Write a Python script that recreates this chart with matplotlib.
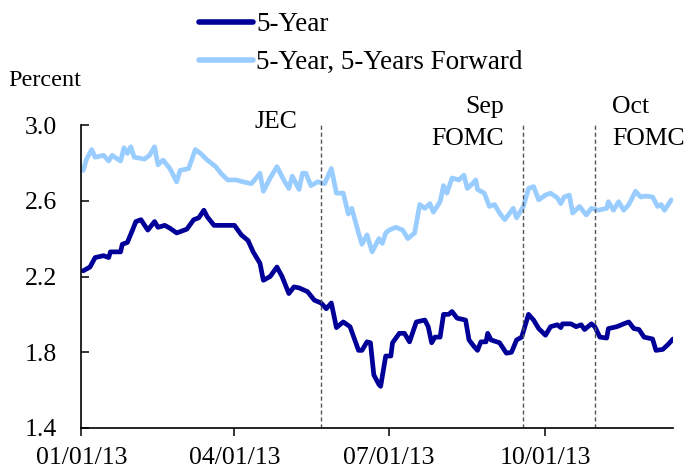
import matplotlib
matplotlib.use("Agg")
import matplotlib.pyplot as plt
import matplotlib.dates as mdates
import numpy as np

plt.rcParams['font.family'] = ['Liberation Serif', 'DejaVu Serif']

# days since 01/01/13
five_year_days = [1, 5, 8, 13, 16, 17, 23, 24, 27, 30, 32, 35, 39, 43, 45, 49, 52, 56, 62, 66,
                  69, 72, 74, 78, 83, 86, 90, 94, 98, 101, 105, 107, 111, 115, 118, 122, 125, 128,
                  133, 137, 141, 144, 147, 150, 154, 158, 163, 165, 168, 170, 172, 175, 176, 179,
                  182, 183, 187, 190, 193, 197, 202, 204, 206, 208, 211, 213, 216, 218, 221, 226,
                  228, 231, 233, 235, 238, 239, 241, 246, 250, 253, 256, 259, 263, 266, 269, 273,
                  276, 280, 282, 283, 288, 291, 294, 296, 300, 302, 305, 309, 310, 315, 319, 322,
                  325, 328, 331, 336, 338, 342, 345, 348]
five_year = [2.23, 2.25, 2.30, 2.31, 2.30, 2.33, 2.33, 2.37, 2.38, 2.445, 2.49, 2.50, 2.445, 2.49,
             2.46, 2.47, 2.455, 2.43, 2.45, 2.50, 2.51, 2.55, 2.515, 2.47, 2.47, 2.47, 2.47, 2.42,
             2.39, 2.33, 2.27, 2.18, 2.20, 2.25, 2.20, 2.11, 2.145, 2.14, 2.12, 2.075, 2.06, 2.03,
             2.06, 1.93, 1.96, 1.935, 1.81, 1.81, 1.855, 1.85, 1.68, 1.63, 1.62, 1.78, 1.78, 1.85,
             1.90, 1.90, 1.855, 1.96, 1.97, 1.935, 1.85, 1.88, 1.88, 2.00, 2.00, 2.015, 1.98, 1.97,
             1.865, 1.83, 1.81, 1.855, 1.855, 1.90, 1.865, 1.85, 1.795, 1.80, 1.865, 1.88, 2.00,
             1.97, 1.925, 1.89, 1.935, 1.945, 1.93, 1.95, 1.95, 1.935, 1.945, 1.92, 1.95, 1.935,
             1.88, 1.875, 1.925, 1.935, 1.95, 1.96, 1.925, 1.92, 1.88, 1.87, 1.81, 1.815, 1.84, 1.87]

fwd_days = [1, 3, 6, 8, 13, 16, 18, 23, 25, 27, 29, 31, 37, 40, 43, 45, 48, 52, 56, 58, 63, 67,
            70, 74, 79, 82, 86, 91, 95, 100, 105, 107, 111, 115, 119, 122, 124, 128, 130, 132,
            135, 139, 143, 147, 150, 154, 157, 159, 163, 165, 168, 171, 175, 177, 179, 181, 185,
            189, 192, 196, 199, 202, 205, 207, 211, 213, 215, 218, 222, 225, 227, 230, 232, 233,
            237, 240, 243, 246, 249, 252, 254, 256, 260, 263, 266, 269, 273, 276, 280, 282, 284,
            287, 289, 293, 297, 300, 304, 309, 310, 313, 316, 319, 322, 326, 329, 332, 336, 339,
            341, 343, 347]
fwd = [2.76, 2.82, 2.87, 2.83, 2.84, 2.81, 2.84, 2.81, 2.88, 2.85, 2.885, 2.83, 2.82, 2.84, 2.885,
       2.79, 2.815, 2.77, 2.70, 2.76, 2.77, 2.87, 2.85, 2.815, 2.78, 2.745, 2.71, 2.71, 2.70, 2.69,
       2.745, 2.65, 2.72, 2.78, 2.71, 2.665, 2.73, 2.66, 2.745, 2.745, 2.68, 2.70, 2.69, 2.77, 2.64,
       2.64, 2.53, 2.56, 2.43, 2.37, 2.42, 2.33, 2.40, 2.375, 2.43, 2.445, 2.46, 2.445, 2.40, 2.43,
       2.58, 2.56, 2.585, 2.54, 2.595, 2.68, 2.64, 2.72, 2.71, 2.735, 2.665, 2.69, 2.71, 2.66, 2.64,
       2.57, 2.58, 2.535, 2.50, 2.535, 2.56, 2.51, 2.57, 2.665, 2.675, 2.605, 2.63, 2.64, 2.615,
       2.585, 2.62, 2.63, 2.535, 2.57, 2.525, 2.56, 2.55, 2.56, 2.595, 2.55, 2.595, 2.55, 2.58,
       2.65, 2.62, 2.625, 2.62, 2.57, 2.58, 2.55, 2.605]

events = ['JEC', 'Sep\nFOMC', 'Oct\nFOMC']
event_dates = ['2013-05-22', '2013-09-18', '2013-10-30']

x_ticks = ['2013-01-01', '2013-04-01', '2013-07-01', '2013-10-01']
y_ticks = [1.4, 1.8, 2.2, 2.6, 3.0]

start = np.datetime64('2013-01-01')
x5 = start + np.array(five_year_days, dtype='timedelta64[D]')
xf = start + np.array(fwd_days, dtype='timedelta64[D]')

fig = plt.figure(figsize=(6.86, 4.71), dpi=100)
ax = fig.add_axes([0.1188, 0.0913, 0.8622, 0.6433])

fs = 18.5
ax.plot(x5, five_year, color='#000099', lw=3.4, label='5-Year', solid_capstyle='round')
ax.plot(xf, fwd, color='#99CCFF', lw=3.4, label='5-Year, 5-Years Forward', solid_capstyle='round')

ax.set_xlim(np.datetime64('2013-01-01'), np.datetime64('2013-12-15'))
ax.set_ylim(1.4, 3.0)

ax.set_xticks([np.datetime64(d) for d in x_ticks])
ax.xaxis.set_major_formatter(mdates.DateFormatter('%m/%d/%y'))
ax.set_yticks(y_ticks)
ax.set_yticklabels([f'{v:.1f}' for v in y_ticks])

for s in ['top', 'right']:
    ax.spines[s].set_visible(False)
for s in ['left', 'bottom']:
    ax.spines[s].set_linewidth(1.2)
ax.tick_params(axis='x', direction='out', length=6, width=1.1, labelsize=fs, pad=8)
ax.tick_params(axis='y', direction='in', length=6, width=1.1, labelsize=fs, pad=17.5)

# event lines and labels
offsets = [(-45, 3, 'center'), (-19, 2, 'right'), (17, 2, 'left')]
for name, d, (dx, dy, ha) in zip(events, event_dates, offsets):
    x = np.datetime64(d)
    ax.axvline(x, color='#555555', lw=1.0, ls=(0, (3, 2)))
    ax.annotate(name, xy=(x, 1.0), xycoords=('data', 'axes fraction'),
                xytext=(dx, dy), textcoords='offset pixels', ha=ha, va='center',
                multialignment=ha, fontsize=fs, linespacing=1.55, annotation_clip=False)

fig.text(8 / 686, 1 - 80 / 471, 'Percent', ha='left', va='center', fontsize=17.5)

leg = fig.legend(loc='upper left', bbox_to_anchor=(199 / 686, 1 - 12 / 471), frameon=False,
                 fontsize=19.5, borderpad=0, borderaxespad=0, handlelength=2.0,
                 handletextpad=0.12, labelspacing=0.48)
for h in leg.get_lines():
    h.set_linewidth(4)

fig.savefig('out.png', dpi=100)
